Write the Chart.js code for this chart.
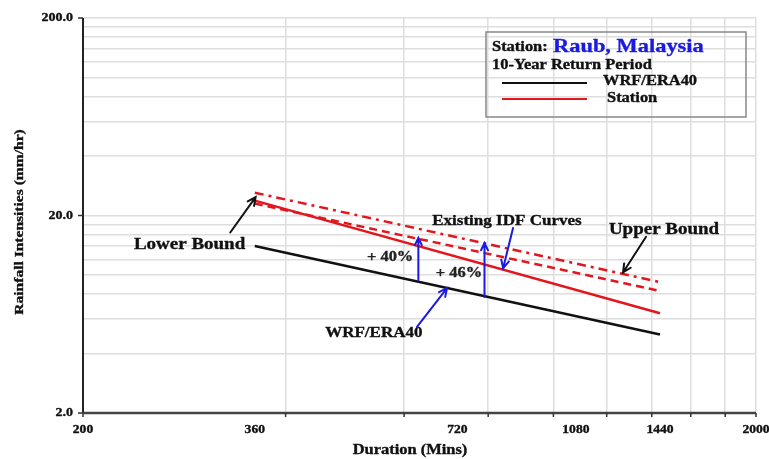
<!DOCTYPE html>
<html>
<head>
<meta charset="utf-8">
<title>Raub, Malaysia – 10-Year Return Period IDF</title>
<style>
  html, body { margin: 0; padding: 0; background: #ffffff; }
  #wrap { width: 769px; height: 459px; position: relative; }
</style>
<script src="https://cdn.jsdelivr.net/npm/chart.js@4.4.1/dist/chart.umd.min.js"></script>
</head>
<body>
<div id="wrap"><canvas id="idf" width="769" height="459"></canvas></div>
<script>
// Durations (minutes) at which the IDF lines are evaluated
const durations = [360, 1440];

// Rainfall intensities (mm/hr), 10-year return period
const wrfEra40 = [14.0, 5.0];   // WRF/ERA40 simulated
const station  = [23.8, 6.4];   // Station observed
const idfUpper = [26.1, 9.2];   // existing IDF curve, upper bound
const idfLower = [23.0, 8.3];   // existing IDF curve, lower

// Axis ticks (log axes) and the values printed under/next to them
const xTickValues = [200, 400, 600, 800, 1000, 1200, 1400, 1600, 1800, 2000];
const xTickLabels = [200, 360, 720, 1080, 1440, 2000];
const yTickValues = [2, 4, 6, 8, 10, 12, 14, 16, 18, 20, 40, 60, 80, 100, 120, 140, 160, 180, 200];
const yTickLabels = [2, 20, 200];

// Increase arrows between WRF/ERA40 and the IDF curves: [duration, from, to]
const gainArrows = [[630, 9.43, 15.4], [790, 7.73, 14.5]];
const gainLabels = [['+ 40%', 572, 12.3], ['+ 46%', 724, 10.2]];

// Callout labels [text, duration, intensity] and their pointer arrows [x1, y1, x2, y2]
const callouts = [
  { text: 'Lower Bound', at: [288, 14.2], arrow: [331, 16.4, 361, 24.8], color: '#111111', size: 16.5 },
  { text: 'Upper Bound', at: [1460, 16.9], arrow: [1373, 15.6, 1269, 10.3], color: '#111111', size: 16.5 },
  { text: 'Existing IDF Curves', at: [853, 18.8], arrow: [871, 17.3, 842, 10.8], color: '#1a1ae0', size: 14.8 },
  { text: 'WRF/ERA40', at: [541, 5.09], arrow: [627, 5.46, 695, 8.58], color: '#1a1ae0', size: 14.8 }
];

const RED = '#e3151d';
const BLUE = '#1a1ae0';
const SERIF = '"Liberation Serif", "Times New Roman", serif';
const WIDEN = 1.15;   // the lettering is set slightly wide

function pairs(xs, ys) { return xs.map((x, i) => ({ x: x, y: ys[i] })); }

// heavy bold serif text, stretched horizontally by WIDEN
function label(ctx, text, x, y, size, color, align, baseline) {
  ctx.save();
  ctx.translate(x, y);
  ctx.scale(WIDEN, 1);
  ctx.font = 'bold ' + size + 'px ' + SERIF;
  ctx.fillStyle = color;
  ctx.strokeStyle = color;
  ctx.lineWidth = 0.35;
  ctx.lineJoin = 'round';
  ctx.textAlign = align || 'center';
  ctx.textBaseline = baseline || 'middle';
  ctx.fillText(text, 0, 0);
  ctx.strokeText(text, 0, 0);
  ctx.restore();
}

function arrow(ctx, x1, y1, x2, y2, color, width, head) {
  const a = Math.atan2(y2 - y1, x2 - x1);
  ctx.save();
  ctx.strokeStyle = color;
  ctx.lineWidth = width;
  ctx.lineCap = 'round';
  ctx.beginPath();
  ctx.moveTo(x1, y1);
  ctx.lineTo(x2, y2);
  ctx.moveTo(x2 - head * Math.cos(a - 0.45), y2 - head * Math.sin(a - 0.45));
  ctx.lineTo(x2, y2);
  ctx.lineTo(x2 - head * Math.cos(a + 0.45), y2 - head * Math.sin(a + 0.45));
  ctx.stroke();
  ctx.restore();
}

const decorations = {
  id: 'decorations',
  afterDraw(chart) {
    const ctx = chart.ctx;
    const xs = chart.scales.x, ys = chart.scales.y;
    const area = chart.chartArea;
    const px = v => xs.getPixelForValue(v);
    const py = v => ys.getPixelForValue(v);

    ctx.save();
    // axis lines
    ctx.strokeStyle = '#222';
    ctx.lineWidth = 2;
    ctx.beginPath();
    ctx.moveTo(area.left, area.top);
    ctx.lineTo(area.left, area.bottom);
    ctx.stroke();
    ctx.strokeStyle = '#444';
    ctx.lineWidth = 2.5;
    ctx.beginPath();
    ctx.moveTo(area.left, area.bottom);
    ctx.lineTo(area.right, area.bottom);
    ctx.stroke();

    // tick marks
    ctx.lineWidth = 1.5;
    ctx.strokeStyle = '#333';
    ctx.beginPath();
    xTickValues.forEach(v => { ctx.moveTo(px(v), area.bottom); ctx.lineTo(px(v), area.bottom + 4); });
    yTickLabels.forEach(v => { ctx.moveTo(area.left, py(v)); ctx.lineTo(area.left - 5, py(v)); });
    ctx.stroke();

    // tick labels
    xTickLabels.forEach(v => label(ctx, String(v), px(v), area.bottom + 17, 11.8, '#111'));
    yTickLabels.forEach(v => label(ctx, v.toFixed(1), area.left - 10, py(v), 12.2, '#111', 'right'));

    // axis titles
    label(ctx, 'Duration (Mins)', 410, 450, 14.3, '#111');
    ctx.save();
    ctx.translate(20, 222);
    ctx.rotate(-Math.PI / 2);
    label(ctx, 'Rainfall Intensities (mm/hr)', 0, 0, 13.5, '#111');
    ctx.restore();

    // legend box
    ctx.strokeStyle = '#888';
    ctx.lineWidth = 1.5;
    ctx.strokeRect(486, 32, 260, 85);
    label(ctx, 'Station:', 492, 51, 14.3, '#111', 'left', 'alphabetic');
    label(ctx, 'Raub, Malaysia', 553, 52, 19.5, BLUE, 'left', 'alphabetic');
    label(ctx, '10-Year Return Period', 492, 69, 14.3, '#111', 'left', 'alphabetic');
    label(ctx, 'WRF/ERA40', 603, 85, 14.3, '#111', 'left', 'alphabetic');
    label(ctx, 'Station', 607, 102, 14.3, '#111', 'left', 'alphabetic');
    ctx.lineWidth = 2;
    ctx.strokeStyle = '#111';
    ctx.beginPath(); ctx.moveTo(502, 83); ctx.lineTo(587, 83); ctx.stroke();
    ctx.strokeStyle = RED;
    ctx.beginPath(); ctx.moveTo(502, 99); ctx.lineTo(587, 99); ctx.stroke();

    // increase arrows and percentages
    gainArrows.forEach(g => arrow(ctx, px(g[0]), py(g[1]), px(g[0]), py(g[2]), BLUE, 2, 8));
    gainLabels.forEach(g => label(ctx, g[0], px(g[1]), py(g[2]), 14.3, '#222'));

    // callouts
    callouts.forEach(c => {
      label(ctx, c.text, px(c.at[0]), py(c.at[1]), c.size, '#111');
      const a = c.arrow;
      arrow(ctx, px(a[0]), py(a[1]), px(a[2]), py(a[3]), c.color, 2, 9);
    });
    ctx.restore();
  }
};

const chart = new Chart(document.getElementById('idf'), {
  type: 'line',
  data: {
    datasets: [
      { label: 'Existing IDF (upper)', data: pairs(durations, idfUpper), borderColor: RED, borderWidth: 2.5, borderDash: [9, 5, 3, 5], pointRadius: 0, fill: false },
      { label: 'Existing IDF', data: pairs(durations, idfLower), borderColor: RED, borderWidth: 2.5, borderDash: [8, 5], pointRadius: 0, fill: false },
      { label: 'Station', data: pairs(durations, station), borderColor: RED, borderWidth: 2.5, pointRadius: 0, fill: false },
      { label: 'WRF/ERA40', data: pairs(durations, wrfEra40), borderColor: '#111111', borderWidth: 2.5, pointRadius: 0, fill: false }
    ]
  },
  options: {
    responsive: false,
    animation: false,
    devicePixelRatio: 1,
    layout: { padding: { left: 83, right: 13, top: 18, bottom: 46 } },
    plugins: { legend: { display: false }, tooltip: { enabled: false } },
    scales: {
      x: {
        type: 'logarithmic', min: 200, max: 2000,
        afterBuildTicks: s => { s.ticks = xTickValues.map(v => ({ value: v })); },
        ticks: { display: false },
        grid: { color: '#dedede', lineWidth: 1.5, drawTicks: false },
        border: { display: false }
      },
      y: {
        type: 'logarithmic', min: 2, max: 200,
        afterBuildTicks: s => { s.ticks = yTickValues.map(v => ({ value: v })); },
        ticks: { display: false },
        grid: { color: '#dedede', lineWidth: 1.5, drawTicks: false },
        border: { display: false }
      }
    }
  },
  plugins: [decorations]
});

// redraw once the serif face is ready so labels use it
if (document.fonts && document.fonts.load) {
  document.fonts.load('bold 14px "Liberation Serif"').then(() => chart.draw()).catch(() => {});
}
</script>
</body>
</html>
